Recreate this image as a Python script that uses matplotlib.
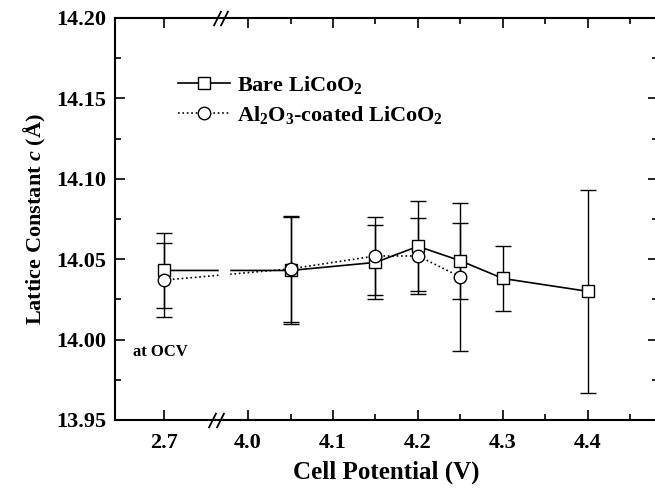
import numpy as np
import matplotlib
matplotlib.use('Agg')
import matplotlib.pyplot as plt
from matplotlib.lines import Line2D
from matplotlib.transforms import blended_transform_factory

plt.rcParams['font.family'] = ['Liberation Serif', 'DejaVu Serif']
plt.rcParams['font.weight'] = 'bold'
plt.rcParams['axes.labelweight'] = 'bold'
plt.rcParams['mathtext.fontset'] = 'custom'
plt.rcParams['mathtext.rm'] = 'Liberation Serif:bold'
plt.rcParams['mathtext.bf'] = 'Liberation Serif:bold'
plt.rcParams['mathtext.it'] = 'Liberation Serif:bold:italic'

# data
potential_bare = [2.7, 4.05, 4.15, 4.2, 4.25, 4.3, 4.4]
c_bare = [14.043, 14.043, 14.048, 14.058, 14.049, 14.038, 14.030]
err_bare = [0.0235, 0.033, 0.023, 0.028, 0.0235, 0.0205, 0.063]

potential_coat = [2.7, 4.05, 4.15, 4.2, 4.25]
c_coat = [14.037, 14.044, 14.052, 14.052, 14.039]
err_coat = [0.023, 0.033, 0.024, 0.0235, 0.046]

xticks = [2.7, 4.0, 4.1, 4.2, 4.3, 4.4]
xtick_labels = ['2.7', '4.0', '4.1', '4.2', '4.3', '4.4']
xminor = [4.05, 4.15, 4.25, 4.35, 4.45]

# broken x axis: 2.7 V (OCV) is pulled next to the 4.0-4.4 V range
data_pts = [0.0, 2.7488, 3.952, 10.0]
axis_pts = [1.2012, 3.950, 3.952, 10.0]


def fwd(x):
    return np.interp(x, data_pts, axis_pts)


def inv(u):
    return np.interp(u, axis_pts, data_pts)


fig = plt.figure(figsize=(6.55, 4.93), dpi=100)
fig.set_facecolor('white')
ax = fig.add_axes([115 / 655, 1 - 420 / 493, 543 / 655, 402 / 493])
ax.set_xscale('function', functions=(fwd, inv))

ax.errorbar(potential_bare, c_bare, yerr=err_bare, color='black', lw=1.2,
            elinewidth=1.0, capsize=6, capthick=1.0, marker='s', ms=8,
            mfc='white', mec='black', mew=1.0, zorder=3)
ax.errorbar(potential_coat, c_coat, yerr=err_coat, color='black', lw=1.2, ls=':',
            elinewidth=1.0, capsize=6, capthick=1.0, marker='o', ms=9,
            mfc='white', mec='black', mew=1.0, zorder=3)

# gap in the lines at the axis break
ax.axvspan(3.966, 3.978, ymin=0.01, ymax=0.99, color='white', zorder=4)

ax.set_xlim(2.6423, 4.4824)
ax.set_ylim(13.95, 14.20)
ax.set_xticks(xticks)
ax.set_xticklabels(xtick_labels)
ax.set_xticks(xminor, minor=True)
ax.set_yticks(np.arange(13.95, 14.201, 0.05))
ax.set_yticklabels(['%.2f' % v for v in np.arange(13.95, 14.201, 0.05)])
ax.set_yticks(np.arange(13.975, 14.20, 0.05), minor=True)
ax.tick_params(which='both', direction='in', top=True, right=True,
               labelsize=16, width=1.2)
ax.tick_params(which='major', length=7)
ax.tick_params(which='minor', length=4)
ax.tick_params(axis='x', pad=9)
ax.tick_params(axis='y', pad=6)
for s in ax.spines.values():
    s.set_linewidth(1.5)

# break marks
trans = blended_transform_factory(ax.transData, ax.transAxes)
slash = [(-1, -2), (1, 2)]
ax.plot([3.958, 3.967], [0, 0], transform=trans, ls='none', marker=slash,
        ms=11, mew=1.3, color='black', clip_on=False, zorder=6)
ax.plot([3.963, 3.972], [1, 1], transform=trans, ls='none', marker=slash,
        ms=11, mew=1.3, color='black', clip_on=False, zorder=6)

ax.set_xlabel('Cell Potential (V)', fontsize=18, labelpad=6)
ax.set_ylabel(r'Lattice Constant $c$ ($\mathrm{\AA}$)', fontsize=16, labelpad=6)

ax.text(0.034, 0.17, 'at OCV', transform=ax.transAxes, fontsize=12,
        ha='left', va='center')

handles = [Line2D([], [], color='black', lw=1.2, marker='s', ms=8,
                  mfc='white', mec='black'),
           Line2D([], [], color='black', lw=1.2, ls=':', marker='o', ms=9,
                  mfc='white', mec='black')]
labels = [r'Bare LiCoO$_2$', r'Al$_2$O$_3$-coated LiCoO$_2$']
ax.legend(handles, labels, loc='upper left', bbox_to_anchor=(0.08, 0.91),
          frameon=False, fontsize=16, handlelength=2.3, handletextpad=0.35,
          labelspacing=0.35)

fig.savefig('out.png', dpi=100)
